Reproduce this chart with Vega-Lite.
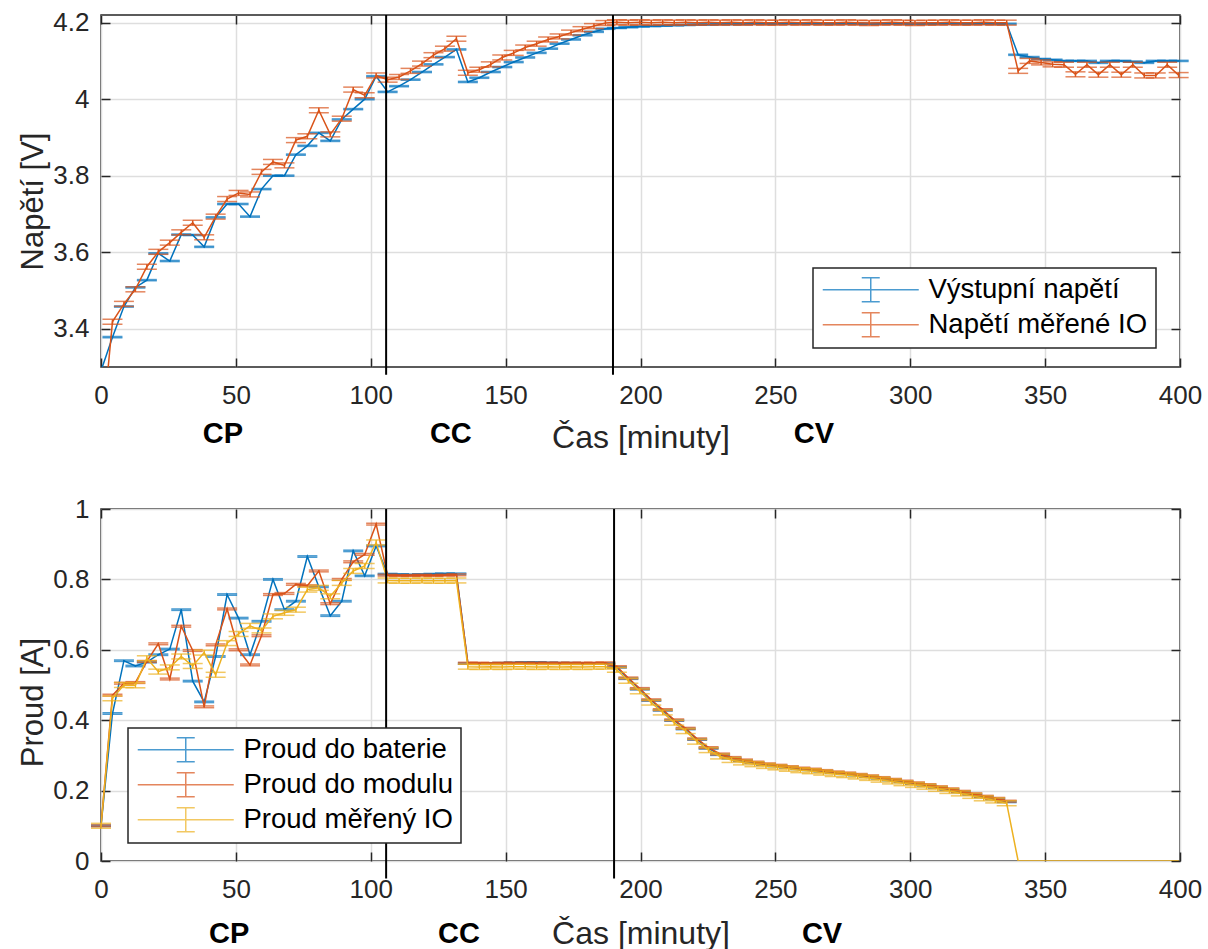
{
  "$schema": "https://vega.github.io/schema/vega-lite/v6.json",
  "background": "white",
  "padding": {"left": 16, "top": 8, "right": 5, "bottom": 0},
  "config": {
    "font": "Liberation Sans",
    "view": {"stroke": "#262626", "strokeWidth": 1.5},
    "axis": {
      "gridColor": "#dedede", "gridWidth": 1.5, "domain": false,
      "tickColor": "#262626", "tickWidth": 1.5, "tickSize": -9,
      "labelFontSize": 26, "labelColor": "#262626", "labelFont": "Liberation Sans",
      "titleFontSize": 31, "titleFontWeight": "normal", "titleColor": "#262626", "titleFont": "Liberation Sans"
    },
    "legend": {
      "title": null, "fillColor": "white", "strokeColor": "#262626", "strokeWidth": 1.5,
      "padding": 8, "labelFontSize": 27.5, "labelColor": "black", "labelFont": "Liberation Sans", "labelLimit": 500,
      "symbolType": "M-4,0H4M0,-1V1M-0.75,-1H0.75M-0.75,1H0.75",
      "symbolSize": 576, "symbolStrokeWidth": 1.5, "symbolOffset": 36, "labelOffset": 44, "rowPadding": 4
    }
  },
  "datasets": {
    "stop": [
      {"k": "B", "name": "Výstupní napětí", "e": 0.0015},
      {"k": "O", "name": "Napětí měřené IO", "e": 0.0065}
    ],
    "sbot": [
      {"k": "B", "name": "Proud do baterie", "e": 0.002},
      {"k": "O", "name": "Proud do modulu", "e": 0.0025},
      {"k": "Y", "name": "Proud měřený IO", "e": 0.007}
    ],
    "phases_top": [{"lbl": "CP", "t": 45.2}, {"lbl": "CC", "t": 129.7}, {"lbl": "CV", "t": 264.3}],
    "phases_bot": [{"lbl": "CP", "t": 47.5}, {"lbl": "CC", "t": 132.7}, {"lbl": "CV", "t": 267.3}],
    "marks_top": [{"t": 105.7}, {"t": 189.8}],
    "marks_bot": [{"t": 105.7}, {"t": 190.2}],
    "top": [
      {"t": 0, "B": 3.29, "O": 3.10},
      {"t": 4.25, "B": 3.378, "O": 3.418},
      {"t": 8.5, "B": 3.458, "O": 3.465},
      {"t": 12.75, "B": 3.508, "O": 3.503},
      {"t": 17, "B": 3.527, "O": 3.562},
      {"t": 21.25, "B": 3.597, "O": 3.601},
      {"t": 25.5, "B": 3.577, "O": 3.625},
      {"t": 29.75, "B": 3.646, "O": 3.652},
      {"t": 34, "B": 3.645, "O": 3.677},
      {"t": 38.25, "B": 3.614, "O": 3.639},
      {"t": 42.5, "B": 3.691, "O": 3.693},
      {"t": 46.75, "B": 3.726, "O": 3.739},
      {"t": 51, "B": 3.726, "O": 3.755},
      {"t": 55.25, "B": 3.693, "O": 3.751},
      {"t": 59.5, "B": 3.765, "O": 3.81},
      {"t": 63.75, "B": 3.8, "O": 3.836},
      {"t": 68, "B": 3.8, "O": 3.827},
      {"t": 72.25, "B": 3.855, "O": 3.893},
      {"t": 76.5, "B": 3.878, "O": 3.903},
      {"t": 80.75, "B": 3.912, "O": 3.971},
      {"t": 85, "B": 3.891, "O": 3.908},
      {"t": 89.25, "B": 3.947, "O": 3.949},
      {"t": 93.5, "B": 3.974, "O": 4.025},
      {"t": 97.75, "B": 4.0, "O": 4.01},
      {"t": 102, "B": 4.06, "O": 4.062},
      {"t": 106.25, "B": 4.019, "O": 4.051},
      {"t": 110.5, "B": 4.034, "O": 4.058},
      {"t": 114.75, "B": 4.051, "O": 4.074},
      {"t": 119, "B": 4.071, "O": 4.093},
      {"t": 123.25, "B": 4.091, "O": 4.115},
      {"t": 127.5, "B": 4.11, "O": 4.132},
      {"t": 131.75, "B": 4.13, "O": 4.158},
      {"t": 136, "B": 4.045, "O": 4.069},
      {"t": 140.25, "B": 4.056, "O": 4.077},
      {"t": 144.5, "B": 4.071, "O": 4.091},
      {"t": 148.75, "B": 4.084, "O": 4.109},
      {"t": 153, "B": 4.097, "O": 4.121},
      {"t": 157.25, "B": 4.109, "O": 4.135},
      {"t": 161.5, "B": 4.121, "O": 4.145},
      {"t": 165.75, "B": 4.132, "O": 4.156},
      {"t": 170, "B": 4.145, "O": 4.164},
      {"t": 174.25, "B": 4.156, "O": 4.174},
      {"t": 178.5, "B": 4.167, "O": 4.183},
      {"t": 182.75, "B": 4.176, "O": 4.191},
      {"t": 187, "B": 4.184, "O": 4.199},
      {"t": 191.25, "B": 4.186, "O": 4.201},
      {"t": 195.5, "B": 4.188, "O": 4.2},
      {"t": 199.75, "B": 4.19, "O": 4.201},
      {"t": 204, "B": 4.191, "O": 4.2},
      {"t": 208.25, "B": 4.192, "O": 4.201},
      {"t": 212.5, "B": 4.193, "O": 4.2},
      {"t": 216.75, "B": 4.194, "O": 4.201},
      {"t": 221, "B": 4.195, "O": 4.2},
      {"t": 225.25, "B": 4.195, "O": 4.201},
      {"t": 229.5, "B": 4.196, "O": 4.2},
      {"t": 233.75, "B": 4.196, "O": 4.201},
      {"t": 238, "B": 4.196, "O": 4.2},
      {"t": 242.25, "B": 4.197, "O": 4.201},
      {"t": 246.5, "B": 4.197, "O": 4.2},
      {"t": 250.75, "B": 4.197, "O": 4.2},
      {"t": 255, "B": 4.197, "O": 4.201},
      {"t": 259.25, "B": 4.197, "O": 4.2},
      {"t": 263.5, "B": 4.197, "O": 4.201},
      {"t": 267.75, "B": 4.197, "O": 4.2},
      {"t": 272, "B": 4.197, "O": 4.2},
      {"t": 276.25, "B": 4.197, "O": 4.201},
      {"t": 280.5, "B": 4.197, "O": 4.2},
      {"t": 284.75, "B": 4.197, "O": 4.199},
      {"t": 289, "B": 4.197, "O": 4.2},
      {"t": 293.25, "B": 4.197, "O": 4.201},
      {"t": 297.5, "B": 4.197, "O": 4.2},
      {"t": 301.75, "B": 4.197, "O": 4.199},
      {"t": 306, "B": 4.197, "O": 4.2},
      {"t": 310.25, "B": 4.197, "O": 4.2},
      {"t": 314.5, "B": 4.197, "O": 4.201},
      {"t": 318.75, "B": 4.197, "O": 4.2},
      {"t": 323, "B": 4.197, "O": 4.2},
      {"t": 327.25, "B": 4.197, "O": 4.201},
      {"t": 331.5, "B": 4.197, "O": 4.2},
      {"t": 335.75, "B": 4.197, "O": 4.2},
      {"t": 340, "B": 4.116, "O": 4.074},
      {"t": 344.25, "B": 4.11, "O": 4.1},
      {"t": 348.5, "B": 4.105, "O": 4.096},
      {"t": 352.75, "B": 4.103, "O": 4.091},
      {"t": 357, "B": 4.1, "O": 4.09},
      {"t": 361.25, "B": 4.1, "O": 4.065},
      {"t": 365.5, "B": 4.1, "O": 4.09},
      {"t": 369.75, "B": 4.095, "O": 4.064},
      {"t": 374, "B": 4.1, "O": 4.09},
      {"t": 378.25, "B": 4.1, "O": 4.064},
      {"t": 382.5, "B": 4.098, "O": 4.09},
      {"t": 386.75, "B": 4.095, "O": 4.062},
      {"t": 391, "B": 4.1, "O": 4.062},
      {"t": 395.25, "B": 4.1, "O": 4.09},
      {"t": 399.5, "B": 4.1, "O": 4.063}
    ],
    "bottom": [
      {"t": 0, "B": 0.1, "O": 0.1, "Y": 0.1},
      {"t": 4.25, "B": 0.419, "O": 0.471, "Y": 0.462},
      {"t": 8.5, "B": 0.569, "O": 0.505, "Y": 0.5},
      {"t": 12.75, "B": 0.554, "O": 0.507, "Y": 0.499},
      {"t": 17, "B": 0.565, "O": 0.567, "Y": 0.576},
      {"t": 21.25, "B": 0.586, "O": 0.617, "Y": 0.538},
      {"t": 25.5, "B": 0.602, "O": 0.517, "Y": 0.55},
      {"t": 29.75, "B": 0.714, "O": 0.667, "Y": 0.581},
      {"t": 34, "B": 0.511, "O": 0.598, "Y": 0.554},
      {"t": 38.25, "B": 0.452, "O": 0.438, "Y": 0.592},
      {"t": 42.5, "B": 0.581, "O": 0.614, "Y": 0.529},
      {"t": 46.75, "B": 0.757, "O": 0.716, "Y": 0.619},
      {"t": 51, "B": 0.69, "O": 0.6, "Y": 0.645},
      {"t": 55.25, "B": 0.586, "O": 0.557, "Y": 0.668},
      {"t": 59.5, "B": 0.681, "O": 0.64, "Y": 0.655},
      {"t": 63.75, "B": 0.8, "O": 0.757, "Y": 0.695},
      {"t": 68, "B": 0.714, "O": 0.76, "Y": 0.705},
      {"t": 72.25, "B": 0.738, "O": 0.786, "Y": 0.714},
      {"t": 76.5, "B": 0.865, "O": 0.782, "Y": 0.771},
      {"t": 80.75, "B": 0.779, "O": 0.824, "Y": 0.776},
      {"t": 85, "B": 0.697, "O": 0.731, "Y": 0.752},
      {"t": 89.25, "B": 0.738, "O": 0.8, "Y": 0.79},
      {"t": 93.5, "B": 0.881, "O": 0.85, "Y": 0.824},
      {"t": 97.75, "B": 0.81, "O": 0.871, "Y": 0.838},
      {"t": 102, "B": 0.895, "O": 0.957, "Y": 0.905},
      {"t": 106.25, "B": 0.815, "O": 0.812, "Y": 0.797},
      {"t": 110.5, "B": 0.814, "O": 0.811, "Y": 0.796},
      {"t": 114.75, "B": 0.813, "O": 0.811, "Y": 0.796},
      {"t": 119, "B": 0.814, "O": 0.812, "Y": 0.797},
      {"t": 123.25, "B": 0.815, "O": 0.811, "Y": 0.796},
      {"t": 127.5, "B": 0.816, "O": 0.812, "Y": 0.796},
      {"t": 131.75, "B": 0.816, "O": 0.813, "Y": 0.797},
      {"t": 136, "B": 0.561, "O": 0.562, "Y": 0.552},
      {"t": 140.25, "B": 0.561, "O": 0.562, "Y": 0.551},
      {"t": 144.5, "B": 0.561, "O": 0.561, "Y": 0.552},
      {"t": 148.75, "B": 0.562, "O": 0.562, "Y": 0.551},
      {"t": 153, "B": 0.563, "O": 0.562, "Y": 0.552},
      {"t": 157.25, "B": 0.564, "O": 0.562, "Y": 0.552},
      {"t": 161.5, "B": 0.564, "O": 0.562, "Y": 0.551},
      {"t": 165.75, "B": 0.563, "O": 0.562, "Y": 0.552},
      {"t": 170, "B": 0.562, "O": 0.562, "Y": 0.551},
      {"t": 174.25, "B": 0.562, "O": 0.562, "Y": 0.552},
      {"t": 178.5, "B": 0.561, "O": 0.562, "Y": 0.551},
      {"t": 182.75, "B": 0.561, "O": 0.562, "Y": 0.552},
      {"t": 187, "B": 0.561, "O": 0.563, "Y": 0.552},
      {"t": 191.25, "B": 0.55, "O": 0.552, "Y": 0.543},
      {"t": 195.5, "B": 0.518, "O": 0.52, "Y": 0.512},
      {"t": 199.75, "B": 0.488, "O": 0.49, "Y": 0.482},
      {"t": 204, "B": 0.456, "O": 0.458, "Y": 0.45},
      {"t": 208.25, "B": 0.428, "O": 0.43, "Y": 0.422},
      {"t": 212.5, "B": 0.399, "O": 0.401, "Y": 0.393},
      {"t": 216.75, "B": 0.375, "O": 0.377, "Y": 0.369},
      {"t": 221, "B": 0.345, "O": 0.347, "Y": 0.339},
      {"t": 225.25, "B": 0.32, "O": 0.322, "Y": 0.315},
      {"t": 229.5, "B": 0.302, "O": 0.304, "Y": 0.297},
      {"t": 233.75, "B": 0.292, "O": 0.294, "Y": 0.287},
      {"t": 238, "B": 0.285, "O": 0.287, "Y": 0.28},
      {"t": 242.25, "B": 0.279, "O": 0.281, "Y": 0.275},
      {"t": 246.5, "B": 0.274, "O": 0.276, "Y": 0.27},
      {"t": 250.75, "B": 0.27, "O": 0.272, "Y": 0.266},
      {"t": 255, "B": 0.266, "O": 0.268, "Y": 0.262},
      {"t": 259.25, "B": 0.262, "O": 0.264, "Y": 0.258},
      {"t": 263.5, "B": 0.259, "O": 0.261, "Y": 0.255},
      {"t": 267.75, "B": 0.255, "O": 0.257, "Y": 0.251},
      {"t": 272, "B": 0.251, "O": 0.253, "Y": 0.247},
      {"t": 276.25, "B": 0.248, "O": 0.25, "Y": 0.244},
      {"t": 280.5, "B": 0.244, "O": 0.246, "Y": 0.24},
      {"t": 284.75, "B": 0.24, "O": 0.242, "Y": 0.236},
      {"t": 289, "B": 0.235, "O": 0.237, "Y": 0.231},
      {"t": 293.25, "B": 0.23, "O": 0.232, "Y": 0.226},
      {"t": 297.5, "B": 0.225, "O": 0.227, "Y": 0.221},
      {"t": 301.75, "B": 0.22, "O": 0.222, "Y": 0.216},
      {"t": 306, "B": 0.215, "O": 0.217, "Y": 0.211},
      {"t": 310.25, "B": 0.209, "O": 0.211, "Y": 0.205},
      {"t": 314.5, "B": 0.203, "O": 0.205, "Y": 0.199},
      {"t": 318.75, "B": 0.196, "O": 0.198, "Y": 0.192},
      {"t": 323, "B": 0.189, "O": 0.191, "Y": 0.185},
      {"t": 327.25, "B": 0.182, "O": 0.184, "Y": 0.178},
      {"t": 331.5, "B": 0.176, "O": 0.178, "Y": 0.172},
      {"t": 335.75, "B": 0.168, "O": 0.17, "Y": 0.164},
      {"t": 340, "Y": 0},
      {"t": 344.25, "Y": 0},
      {"t": 348.5, "Y": 0},
      {"t": 352.75, "Y": 0},
      {"t": 357, "Y": 0},
      {"t": 361.25, "Y": 0},
      {"t": 365.5, "Y": 0},
      {"t": 369.75, "Y": 0},
      {"t": 374, "Y": 0},
      {"t": 378.25, "Y": 0},
      {"t": 382.5, "Y": 0},
      {"t": 386.75, "Y": 0},
      {"t": 391, "Y": 0},
      {"t": 395.25, "Y": 0},
      {"t": 399.5, "Y": 0}
    ]
  },
  "bounds": "flush",
  "spacing": 142,
  "resolve": {"scale": {"color": "independent", "y": "independent"}, "legend": {"color": "independent"}},
  "vconcat": [
    {
      "width": 1079, "height": 352,
      "resolve": {"axis": {"x": "independent", "y": "independent"}},
      "layer": [
        {
          "data": {"name": "top"},
          "transform": [
            {"fold": ["B"], "as": ["k", "v"]},
            {"lookup": "k", "from": {"data": {"name": "stop"}, "key": "k", "fields": ["name", "e"]}}
          ],
          "encoding": {
            "x": {"field": "t", "type": "quantitative", "scale": {"domain": [0, 400], "nice": false},
                  "axis": {"values": [0, 50, 100, 150, 200, 250, 300, 350, 400], "labelFlush": false, "labelPadding": 24, "title": "Čas [minuty]", "titleFontSize": 32, "titleY": 70, "titleBaseline": "middle"}},
            "y": {"field": "v", "type": "quantitative", "scale": {"domain": [3.3, 4.22], "nice": false, "zero": false},
                  "axis": {"values": [3.4, 3.6, 3.8, 4, 4.2], "format": "~g", "labelPadding": 21, "title": "Napětí [V]", "titleX": -68, "titleY": 186, "titleBaseline": "middle"}},
            "color": {"field": "name", "type": "nominal",
                      "scale": {"domain": ["Výstupní napětí", "Napětí měřené IO"], "range": ["#0072BD", "#D95319"]},
                      "legend": {"orient": "none", "legendX": 712, "legendY": 253}}
          },
          "layer": [
            {"mark": {"type": "line", "strokeWidth": 1.5, "clip": true}},
            {"transform": [{"filter": "datum.v >= 3.3"}], "mark": {"type": "errorbar", "thickness": 1.5, "ticks": {"size": 20, "thickness": 1.5}}, "encoding": {"yError": {"field": "e"}}}
          ]
        },
        {
          "data": {"name": "top"},
          "transform": [
            {"fold": ["O"], "as": ["k", "v"]},
            {"lookup": "k", "from": {"data": {"name": "stop"}, "key": "k", "fields": ["name", "e"]}}
          ],
          "encoding": {
            "x": {"field": "t", "type": "quantitative", "scale": {"domain": [0, 400], "nice": false}, "axis": null},
            "y": {"field": "v", "type": "quantitative", "scale": {"domain": [3.3, 4.22], "nice": false, "zero": false}, "axis": null},
            "color": {"field": "name", "type": "nominal",
                      "scale": {"domain": ["Výstupní napětí", "Napětí měřené IO"], "range": ["#0072BD", "#D95319"]},
                      "legend": {"orient": "none", "legendX": 712, "legendY": 253}}
          },
          "layer": [
            {"mark": {"type": "line", "strokeWidth": 1.5, "clip": true}},
            {"transform": [{"filter": "datum.v >= 3.3"}], "mark": {"type": "errorbar", "thickness": 1.5, "ticks": {"size": 20, "thickness": 1.5}}, "encoding": {"yError": {"field": "e"}}}
          ]
        },
        {
          "data": {"name": "marks_top"},
          "mark": {"type": "rule", "strokeWidth": 2, "color": "black"},
          "encoding": {
            "x": {"field": "t", "type": "quantitative", "scale": {"domain": [0, 400], "nice": false},
                  "axis": {"orient": "top", "values": [0, 50, 100, 150, 200, 250, 300, 350, 400], "labels": false, "grid": false, "title": null}},
            "y": {"datum": 3.28, "type": "quantitative", "scale": {"domain": [3.3, 4.22], "nice": false, "zero": false},
                  "axis": {"orient": "right", "values": [3.4, 3.6, 3.8, 4, 4.2], "labels": false, "grid": false, "title": null}},
            "y2": {"datum": 4.22}
          }
        },
        {
          "data": {"name": "phases_top"},
          "mark": {"type": "text", "fontWeight": "bold", "fontSize": 29, "font": "Liberation Sans Narrow, Liberation Sans", "baseline": "middle", "align": "center", "color": "black"},
          "encoding": {
            "x": {"field": "t", "type": "quantitative", "scale": {"domain": [0, 400], "nice": false}, "axis": null},
            "y": {"datum": 3.125, "type": "quantitative", "scale": {"domain": [3.3, 4.22], "nice": false, "zero": false}, "axis": null},
            "text": {"field": "lbl"}
          }
        }
      ]
    },
    {
      "width": 1079, "height": 352,
      "resolve": {"axis": {"x": "independent", "y": "independent"}},
      "layer": [
        {
          "data": {"name": "bottom"},
          "transform": [
            {"fold": ["B"], "as": ["k", "v"]},
            {"filter": "isValid(datum.v)"},
            {"lookup": "k", "from": {"data": {"name": "sbot"}, "key": "k", "fields": ["name", "e"]}}
          ],
          "encoding": {
            "x": {"field": "t", "type": "quantitative", "scale": {"domain": [0, 400], "nice": false},
                  "axis": {"values": [0, 50, 100, 150, 200, 250, 300, 350, 400], "labelFlush": false, "labelPadding": 24, "title": "Čas [minuty]", "titleFontSize": 32, "titleY": 72, "titleBaseline": "middle"}},
            "y": {"field": "v", "type": "quantitative", "scale": {"domain": [0, 1], "nice": false},
                  "axis": {"values": [0, 0.2, 0.4, 0.6, 0.8, 1], "format": "~g", "labelPadding": 21, "title": "Proud [A]", "titleX": -68, "titleY": 193, "titleBaseline": "middle"}},
            "color": {"field": "name", "type": "nominal",
                      "scale": {"domain": ["Proud do baterie", "Proud do modulu", "Proud měřený IO"], "range": ["#0072BD", "#D95319", "#EDB120"]},
                      "legend": {"orient": "none", "legendX": 27, "legendY": 219}}
          },
          "layer": [
            {"mark": {"type": "line", "strokeWidth": 1.5, "clip": true}},
            {"mark": {"type": "errorbar", "thickness": 1.5, "ticks": {"size": 20, "thickness": 1.5}}, "encoding": {"yError": {"field": "e"}}}
          ]
        },
        {
          "data": {"name": "bottom"},
          "transform": [
            {"fold": ["O"], "as": ["k", "v"]},
            {"filter": "isValid(datum.v)"},
            {"lookup": "k", "from": {"data": {"name": "sbot"}, "key": "k", "fields": ["name", "e"]}}
          ],
          "encoding": {
            "x": {"field": "t", "type": "quantitative", "scale": {"domain": [0, 400], "nice": false}, "axis": null},
            "y": {"field": "v", "type": "quantitative", "scale": {"domain": [0, 1], "nice": false}, "axis": null},
            "color": {"field": "name", "type": "nominal",
                      "scale": {"domain": ["Proud do baterie", "Proud do modulu", "Proud měřený IO"], "range": ["#0072BD", "#D95319", "#EDB120"]},
                      "legend": {"orient": "none", "legendX": 27, "legendY": 219}}
          },
          "layer": [
            {"mark": {"type": "line", "strokeWidth": 1.5, "clip": true}},
            {"mark": {"type": "errorbar", "thickness": 1.5, "ticks": {"size": 20, "thickness": 1.5}}, "encoding": {"yError": {"field": "e"}}}
          ]
        },
        {
          "data": {"name": "bottom"},
          "transform": [
            {"fold": ["Y"], "as": ["k", "v"]},
            {"filter": "isValid(datum.v)"},
            {"lookup": "k", "from": {"data": {"name": "sbot"}, "key": "k", "fields": ["name", "e"]}}
          ],
          "encoding": {
            "x": {"field": "t", "type": "quantitative", "scale": {"domain": [0, 400], "nice": false}, "axis": null},
            "y": {"field": "v", "type": "quantitative", "scale": {"domain": [0, 1], "nice": false}, "axis": null},
            "color": {"field": "name", "type": "nominal",
                      "scale": {"domain": ["Proud do baterie", "Proud do modulu", "Proud měřený IO"], "range": ["#0072BD", "#D95319", "#EDB120"]},
                      "legend": {"orient": "none", "legendX": 27, "legendY": 219}}
          },
          "layer": [
            {"mark": {"type": "line", "strokeWidth": 1.5, "clip": true}},
            {"transform": [{"filter": "datum.v > 0"}], "mark": {"type": "errorbar", "thickness": 1.5, "ticks": {"size": 20, "thickness": 1.5}}, "encoding": {"yError": {"field": "e"}}}
          ]
        },
        {
          "data": {"name": "marks_bot"},
          "mark": {"type": "rule", "strokeWidth": 2, "color": "black"},
          "encoding": {
            "x": {"field": "t", "type": "quantitative", "scale": {"domain": [0, 400], "nice": false},
                  "axis": {"orient": "top", "values": [0, 50, 100, 150, 200, 250, 300, 350, 400], "labels": false, "grid": false, "title": null}},
            "y": {"datum": -0.05, "type": "quantitative", "scale": {"domain": [0, 1], "nice": false},
                  "axis": {"orient": "right", "values": [0, 0.2, 0.4, 0.6, 0.8, 1], "labels": false, "grid": false, "title": null}},
            "y2": {"datum": 1}
          }
        },
        {
          "data": {"name": "phases_bot"},
          "mark": {"type": "text", "fontWeight": "bold", "fontSize": 29, "font": "Liberation Sans Narrow, Liberation Sans", "baseline": "middle", "align": "center", "color": "black"},
          "encoding": {
            "x": {"field": "t", "type": "quantitative", "scale": {"domain": [0, 400], "nice": false}, "axis": null},
            "y": {"datum": -0.2066, "type": "quantitative", "scale": {"domain": [0, 1], "nice": false}, "axis": null},
            "text": {"field": "lbl"}
          }
        }
      ]
    }
  ]
}
